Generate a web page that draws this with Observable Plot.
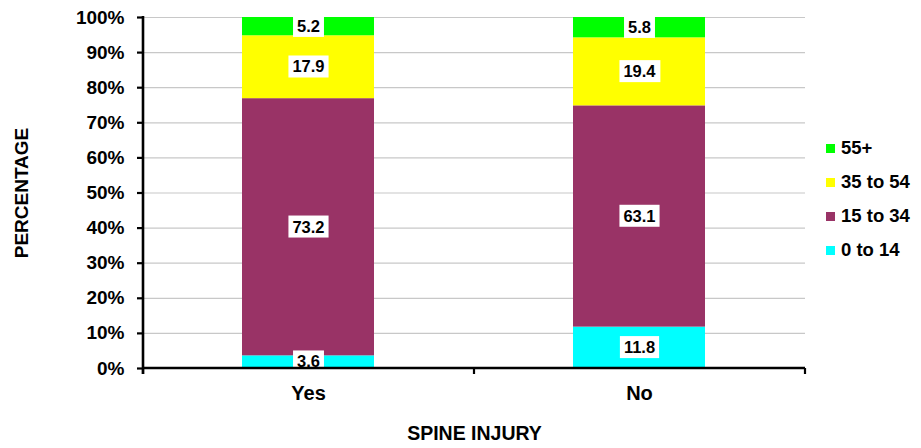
<!DOCTYPE html>
<html>
<head>
<meta charset="utf-8">
<script src="https://cdn.jsdelivr.net/npm/d3@7"></script>
<script src="https://cdn.jsdelivr.net/npm/@observablehq/plot@0.6"></script>
<style>
  body { margin: 0; background: #fff; }
  #wrap { position: relative; width: 921px; height: 448px; font-family: "Liberation Sans", Arial, sans-serif; font-weight: bold; color: #000; }
  #legend { position: absolute; left: 826px; top: 131px; }
  .li { display: flex; align-items: center; height: 34px; font-size: 18.5px; }
  .sw { width: 9px; height: 9px; margin-right: 6px; }
</style>
</head>
<body>
<div id="wrap"><div id="legend"></div></div>
<script>
const categories = ["Yes", "No"];
const ageGroups = ["0 to 14", "15 to 34", "35 to 54", "55+"];
const yesValues = [3.6, 73.2, 17.9, 5.2];
const noValues = [11.8, 63.1, 19.4, 5.8];
const colors = ["#00FFFF", "#993366", "#FFFF00", "#00FF00"];
const yTicks = [0, 0.1, 0.2, 0.3, 0.4, 0.5, 0.6, 0.7, 0.8, 0.9, 1.0];
const xTitle = "SPINE INJURY";
const yTitle = "PERCENTAGE";

const series = {Yes: yesValues, No: noValues};
const data = categories.flatMap(c => ageGroups.map((a, i) => ({cat: c, age: a, value: series[c][i]})));
const fmt = d => d.value.toFixed(1);

const plot = Plot.plot({
  width: 921,
  height: 448,
  marginLeft: 143,
  marginRight: 116,
  marginTop: 17,
  marginBottom: 80,
  style: {fontFamily: "'Liberation Sans', Arial, sans-serif", fontWeight: "bold", color: "#000", background: "#fff", overflow: "visible"},
  x: {domain: categories, paddingInner: 0.6, paddingOuter: 0.3, axis: null},
  y: {domain: [0, 1], axis: null},
  color: {domain: ageGroups, range: colors, legend: false},
  marks: [
    Plot.ruleY(yTicks.filter(d => d > 0), {stroke: "#c8c8c8", strokeWidth: 1.2}),
    Plot.barY(data, Plot.stackY({x: "cat", y: "value", fill: "age", offset: "normalize"})),
    Plot.text(data, Plot.stackY({x: "cat", y: "value", z: "age", text: fmt, offset: "normalize", fontSize: 16.5, fontWeight: "bold", fill: "#000"})),
    Plot.axisY({ticks: yTicks, tickFormat: d => Math.round(d * 100) + "%", tickSize: 6, tickPadding: 13, fontSize: 19, stroke: "#000", strokeWidth: 2.2, label: null}),
    Plot.axisX({tickSize: 0, tickPadding: 17, fontSize: 20, label: null}),
    Plot.text([xTitle], {frameAnchor: "bottom", dy: 71, fontSize: 19.5, fontWeight: "bold", fill: "#000"}),
    Plot.text([yTitle], {frameAnchor: "left", textAnchor: "middle", dx: -122, rotate: -90, fontSize: 19, fontWeight: "bold", fill: "#000"})
  ]
});

const wrap = document.getElementById("wrap");
wrap.insertBefore(plot, wrap.firstChild);
plot.style.position = "absolute";
plot.style.left = "0";
plot.style.top = "0";

const svg = d3.select(plot);
const xs = plot.scale("x");
const ys = plot.scale("y");
const yTop = ys.apply(1), yBot = ys.apply(0);
const [r0, r1] = xs.range;

// white boxes behind value labels
const labelSet = new Set(data.map(fmt));
svg.selectAll("text").filter(function() { return labelSet.has(this.textContent); }).each(function() {
  const b = this.getBBox();
  const cy = b.y + b.height / 2;
  const r = document.createElementNS("http://www.w3.org/2000/svg", "rect");
  r.setAttribute("x", b.x - 4);
  r.setAttribute("y", cy - 11);
  r.setAttribute("width", b.width + 8);
  r.setAttribute("height", 22);
  r.setAttribute("fill", "#fff");
  const t = this.getAttribute("transform");
  if (t) r.setAttribute("transform", t);
  this.parentNode.insertBefore(r, this);
});

// axis lines and boundary ticks on top
const g = svg.append("g").attr("stroke", "#000");
g.append("line").attr("x1", r0).attr("x2", r0).attr("y1", yTop - 1).attr("y2", yBot + 6).attr("stroke-width", 2.6);
g.append("line").attr("x1", r0).attr("x2", r1).attr("y1", yBot).attr("y2", yBot).attr("stroke-width", 2.6);
for (let i = 0; i <= categories.length; i++) {
  const x = r0 + i * (r1 - r0) / categories.length;
  g.append("line").attr("x1", x).attr("x2", x).attr("y1", yBot).attr("y2", yBot + 6).attr("stroke-width", 2.2);
}

// legend (top to bottom: reverse stack order)
const legend = d3.select("#legend");
ageGroups.slice().reverse().forEach(a => {
  const row = legend.append("div").attr("class", "li");
  row.append("div").attr("class", "sw").style("background", colors[ageGroups.indexOf(a)]);
  row.append("span").text(a);
});
</script>
</body>
</html>
